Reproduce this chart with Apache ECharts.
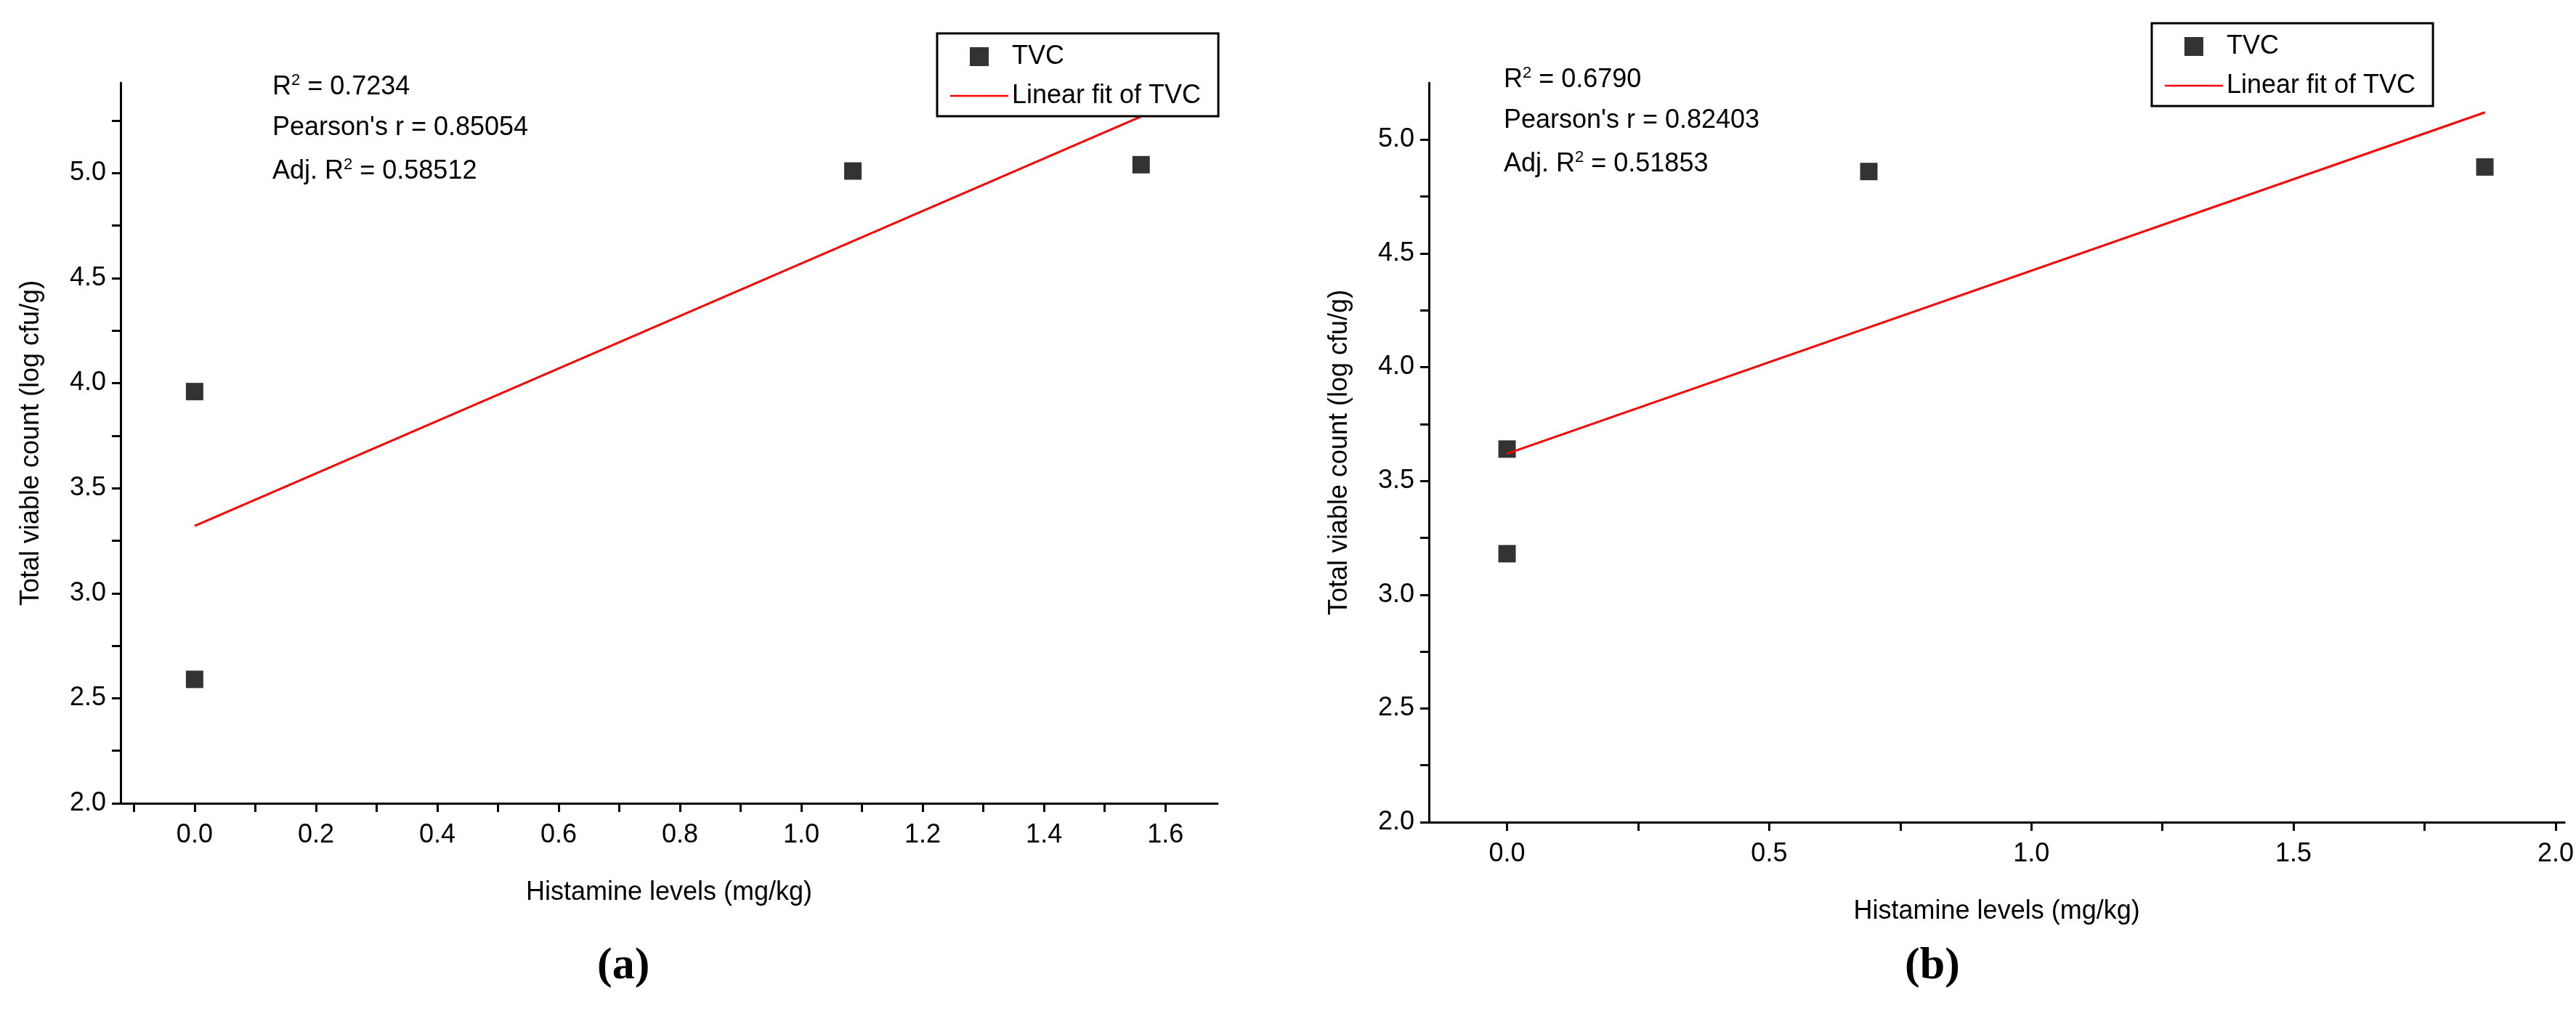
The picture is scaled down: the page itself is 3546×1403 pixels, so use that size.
<!DOCTYPE html>
<html><head><meta charset="utf-8">
<script src="https://cdn.jsdelivr.net/npm/echarts@6/dist/echarts.min.js"></script>
<style>html,body{margin:0;background:#fff}#c{width:3546px;height:1403px}</style>
</head><body><div id="c"></div>
<script>
const ptsA = [[0,3.96],[0,2.59],[1.085,5.01],[1.56,5.04]];
const fitA = [[0,3.32],[1.56,5.27]];
const ptsB = [[0,3.64],[0,3.18],[0.69,4.86],[1.865,4.88]];
const fitB = [[0,3.62],[1.865,5.12]];
const xTicksA = [0,0.2,0.4,0.6,0.8,1.0,1.2,1.4,1.6];
const xMinorA = [-0.1,0,0.1,0.2,0.3,0.4,0.5,0.6,0.7,0.8,0.9,1.0,1.1,1.2,1.3,1.4,1.5,1.6];
const xTicksB = [0,0.5,1.0,1.5,2.0];
const xMinorB = [0,0.25,0.5,0.75,1.0,1.25,1.5,1.75,2.0];
const yTicks = [2.0,2.5,3.0,3.5,4.0,4.5,5.0];
const yMinorA = [2.0,2.25,2.5,2.75,3.0,3.25,3.5,3.75,4.0,4.25,4.5,4.75,5.0,5.25];
const yMinorB = [2.0,2.25,2.5,2.75,3.0,3.25,3.5,3.75,4.0,4.25,4.5,4.75,5.0];
const statsA = ['R{s|2} = 0.7234',"Pearson's r = 0.85054",'Adj. R{s|2} = 0.58512'];
const statsB = ['R{s|2} = 0.6790',"Pearson's r = 0.82403",'Adj. R{s|2} = 0.51853'];

const F = 'Liberation Sans';
const lab = {fontFamily:F,fontSize:36,color:'#000'};
function xAx(i,min,max,ticks,minor){return {gridIndex:i,type:'value',min,max,
  name:'Histamine levels (mg/kg)',nameLocation:'middle',nameGap:105,nameTextStyle:lab,
  axisLine:{onZero:false,lineStyle:{color:'#000',width:3}},
  axisTick:{customValues:minor,length:12,inside:false,lineStyle:{color:'#000',width:3}},
  axisLabel:Object.assign({customValues:ticks,margin:26,formatter:v=>v.toFixed(1)},lab),splitLine:{show:false}};}
function yAx(i,max,minor){return {gridIndex:i,type:'value',min:2.0,max,
  name:'Total viable count (log cfu/g)',nameLocation:'middle',nameGap:105,nameTextStyle:lab,
  axisLine:{onZero:false,lineStyle:{color:'#000',width:3}},
  axisTick:{customValues:minor,length:12,lineStyle:{color:'#000',width:3}},
  axisLabel:Object.assign({customValues:yTicks,margin:20,formatter:v=>v.toFixed(1)},lab),splitLine:{show:false}};}
const sq='path://M0 0H10V10H0Z', ln='path://M0 0H100V3H0Z';
function leg(i,left,top){return {orient:'vertical',left,top,padding:[14,24,10,18],itemGap:18,
  borderColor:'#000',borderWidth:3,itemWidth:80,itemHeight:26,textStyle:lab,
  data:[{name:'TVC'+i,icon:sq,itemStyle:{color:'#000'}},{name:'Linear fit of TVC'+i,icon:ln,itemStyle:{color:'#ff0000'}}],
  formatter:n=>n.replace(/\d$/,'')};}
const rich={s:{fontSize:22,verticalAlign:'top',fontFamily:F,padding:[0,0,18,0]}};
function stats(arr,left,top){return arr.map((t,k)=>({type:'text',left,top:top+k*58,
  style:{text:t,font:'36px '+F,fill:'#000',rich}}));}
const opt={animation:false,
 grid:[{left:166,right:3546-1676,top:114,bottom:1403-1106},{left:1967,right:14,top:114,bottom:1403-1132}],
 xAxis:[xAx(0,-0.122,1.686,xTicksA,xMinorA),xAx(1,-0.149,2.017,xTicksB,xMinorB)],
 yAxis:[yAx(0,5.43,yMinorA),yAx(1,5.25,yMinorB)],
 legend:[leg(1,1290,46),leg(2,2962,32)],
 series:[
  {name:'TVC1',type:'scatter',xAxisIndex:0,yAxisIndex:0,data:ptsA,symbol:'rect',symbolSize:24,itemStyle:{color:'#000'}},
  {name:'Linear fit of TVC1',type:'line',xAxisIndex:0,yAxisIndex:0,data:fitA,showSymbol:false,lineStyle:{color:'#ff0000',width:3}},
  {name:'TVC2',type:'scatter',xAxisIndex:1,yAxisIndex:1,data:ptsB,symbol:'rect',symbolSize:24,itemStyle:{color:'#000'}},
  {name:'Linear fit of TVC2',type:'line',xAxisIndex:1,yAxisIndex:1,data:fitB,showSymbol:false,lineStyle:{color:'#ff0000',width:3}}],
 graphic:[...stats(statsA,375,100),...stats(statsB,2070,90),
  {type:'text',left:822,top:1300,style:{text:'(a)',font:'bold 62px "Liberation Serif"',fill:'#000'}},
  {type:'text',left:2622,top:1300,style:{text:'(b)',font:'bold 62px "Liberation Serif"',fill:'#000'}}]};
echarts.init(document.getElementById('c')).setOption(opt);
</script></body></html>
